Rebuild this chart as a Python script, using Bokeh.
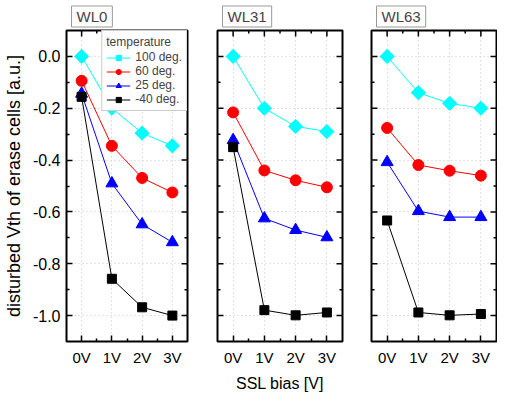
import numpy as np
from bokeh.plotting import figure
from bokeh.models import (Range1d, FixedTicker, Legend, LegendItem,
                          PrintfTickFormatter)
from bokeh.layouts import row
from bokeh.embed import file_html
from bokeh.resources import INLINE

categories = ["0V", "1V", "2V", "3V"]
temperatures = ["100 deg.", "60 deg.", "25 deg.", "-40 deg."]
y_ticks = [-1.0, -0.8, -0.6, -0.4, -0.2, 0.0]

wl0_100 = [0.0, -0.200, -0.296, -0.345]
wl0_60 = [-0.094, -0.345, -0.469, -0.525]
wl0_25 = [-0.144, -0.490, -0.648, -0.717]
wl0_m40 = [-0.156, -0.858, -0.968, -1.000]

wl31_100 = [0.0, -0.200, -0.270, -0.290]
wl31_60 = [-0.216, -0.440, -0.478, -0.505]
wl31_25 = [-0.323, -0.625, -0.670, -0.698]
wl31_m40 = [-0.350, -0.979, -0.999, -0.988]

wl63_100 = [0.0, -0.140, -0.181, -0.200]
wl63_60 = [-0.276, -0.419, -0.441, -0.460]
wl63_25 = [-0.408, -0.597, -0.620, -0.620]
wl63_m40 = [-0.633, -0.988, -0.999, -0.994]

FONT = "Liberation Sans"
X0, X1 = -0.5, 3.5
Y0, Y1 = -1.1, 0.1
H = 394
styles = [
    dict(color="#00FFFF", marker="square", size=10, angle=np.pi / 4),
    dict(color="#FF0000", marker="circle", size=11, angle=0.0),
    dict(color="#0000FF", marker="triangle", size=12, angle=0.0),
    dict(color="#000000", marker="square", size=9, angle=0.0),
]

x = list(range(len(categories)))
x_minor = [i + 0.5 for i in x[:-1]]
y_minor = [round(t + 0.1, 2) for t in y_ticks[:-1]]

MAJ, MIN = 12, 6  # dash sizes: half lies inside the frame


def style_axis(ax, major, minor):
    ax.ticker = FixedTicker(ticks=major, minor_ticks=minor)
    ax.axis_line_color = None
    ax.major_tick_in = 6
    ax.major_tick_out = 0
    ax.minor_tick_in = 3
    ax.minor_tick_out = 0
    ax.major_tick_line_color = "black"
    ax.minor_tick_line_color = "black"
    ax.major_tick_line_width = 1.5
    ax.minor_tick_line_width = 1.5
    ax.major_label_text_font = FONT
    ax.major_label_text_color = "black"
    ax.major_label_text_font_size = "16px"
    ax.axis_label_text_font = FONT
    ax.axis_label_text_font_style = "normal"
    ax.axis_label_text_color = "black"


def mirror_ticks(p, left):
    for ticks, sz in ((x, MAJ), (x_minor, MIN)):
        p.scatter(ticks, [Y1] * len(ticks), marker="dash", angle=np.pi / 2,
                  size=sz, line_color="black", line_width=1.5)
    edges = [X1] + ([X0] if left else [])
    for xe in edges:
        for ticks, sz in ((y_ticks, MAJ), (y_minor, MIN)):
            p.scatter([xe] * len(ticks), ticks, marker="dash", size=sz,
                      line_color="black", line_width=1.5)


def make_panel(name, series, width, left, right, show_y, xlabel=None,
               legend=False):
    p = figure(width=width, height=H, x_range=Range1d(X0, X1),
               y_range=Range1d(Y0, Y1), output_backend="svg",
               toolbar_location=None, min_border_left=left,
               min_border_right=right, min_border_top=30, min_border_bottom=50,
               title=name, y_axis_location="left" if show_y else None)
    p.background_fill_color = "white"
    p.border_fill_color = "white"
    p.outline_line_color = "black"
    p.outline_line_width = 2
    p.title.text_font = FONT
    p.title.text_font_size = "15px"
    p.title.text_font_style = "normal"
    p.title.align = "left"
    p.title.standoff = 7
    p.title.offset = 5
    p.title.border_line_color = "#999999"
    p.title.border_line_width = 1
    p.title.background_fill_color = "white"
    p.title.padding = (5, 2)

    style_axis(p.xaxis[0], x, x_minor)
    p.xaxis[0].major_label_overrides = {i: c for i, c in zip(x, categories)}
    p.xaxis[0].major_label_text_font_size = "15px"
    p.xaxis[0].major_label_standoff = 7
    if xlabel:
        p.xaxis[0].axis_label = xlabel
        p.xaxis[0].axis_label_text_font_size = "16px"
        p.xaxis[0].axis_label_standoff = 6
    if show_y:
        style_axis(p.yaxis[0], y_ticks, y_minor)
        p.yaxis[0].formatter = PrintfTickFormatter(format="%.1f")
        p.yaxis[0].major_label_standoff = 6
        p.yaxis[0].axis_label = "disturbed Vth of erase cells [a.u.]"
        p.yaxis[0].axis_label_text_font_size = "18px"
        p.yaxis[0].axis_label_standoff = 6

    for g in (p.xgrid[0], p.ygrid[0]):
        g.grid_line_color = "#c8c8c8"
        g.grid_line_dash = "1 3"
        g.grid_line_width = 1
    p.xgrid[0].ticker = FixedTicker(ticks=x)
    p.ygrid[0].ticker = FixedTicker(ticks=y_ticks)

    mirror_ticks(p, not show_y)

    items = []
    for vals, st, lab in zip(series, styles, temperatures):
        ln = p.line(x, vals, line_color=st["color"], line_width=1)
        sc = p.scatter(x, vals, marker=st["marker"], size=st["size"],
                       angle=st["angle"], fill_color=st["color"],
                       line_color=st["color"])
        items.append(LegendItem(label=lab, renderers=[ln, sc]))
    if legend:
        lg = Legend(items=items, location="top_right", title="temperature")
        lg.title_text_font = FONT
        lg.title_text_font_size = "12px"
        lg.title_text_font_style = "normal"
        lg.title_standoff = 1
        lg.label_text_font = FONT
        lg.label_text_font_size = "12px"
        lg.glyph_width = 24
        lg.glyph_height = 13
        lg.label_height = 13
        lg.label_standoff = 5
        lg.spacing = 0
        lg.padding = 4
        lg.margin = 0
        lg.border_line_color = "#999999"
        lg.border_line_width = 1
        lg.background_fill_color = "white"
        lg.background_fill_alpha = 1
        p.add_layout(lg, "center")
    return p


p1 = make_panel("WL0", [wl0_100, wl0_60, wl0_25, wl0_m40], 214, 62, 27, True,
                legend=True)
p2 = make_panel("WL31", [wl31_100, wl31_60, wl31_25, wl31_m40], 145, 3, 17, False, xlabel="SSL bias [V]")
p3 = make_panel("WL63", [wl63_100, wl63_60, wl63_25, wl63_m40], 138, 12, 1, False)

layout = row(p1, p2, p3)
open("out.html", "w").write(file_html(layout, INLINE))
